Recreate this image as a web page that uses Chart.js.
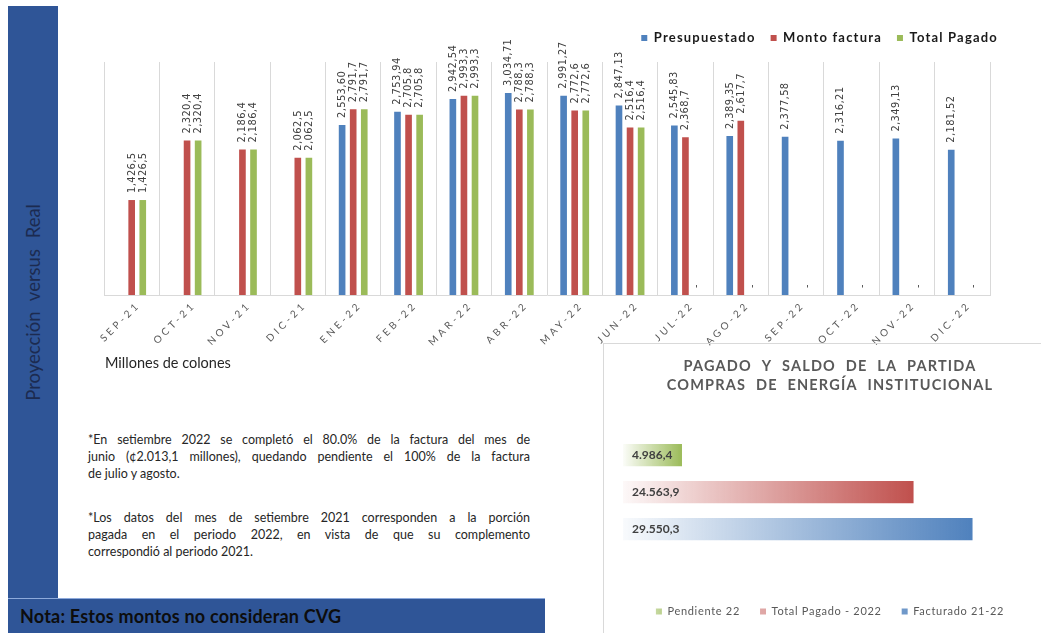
<!DOCTYPE html>
<html lang="es">
<head>
<meta charset="UTF-8">
<title>Proyección versus Real</title>
<script src="https://cdn.jsdelivr.net/npm/chart.js"></script>
<style>
    body { margin: 0; width: 1041px; height: 633px; overflow: hidden; background: #fff; position: relative; font-family: Lato, "Open Sans", sans-serif; }
    .lateral { position: absolute; left: 8px; top: 6px; width: 50px; height: 592px; background: #2f5597; display: flex; align-items: center; justify-content: center; }
    .lateral span { writing-mode: vertical-rl; transform: rotate(180deg); color: #1c2b50; font-size: 18.5px; word-spacing: 6px; }
    .nota { position: absolute; left: 8px; top: 598px; width: 537px; height: 40px; background: #2f5597; border-top: 1px solid #8eaadb; box-sizing: border-box; }
    .nota span { position: absolute; left: 12px; top: 6px; font-weight: bold; font-size: 18px; letter-spacing: 0.2px; color: #0d0d0d; }
    #cajaBarras { position: absolute; left: 60px; top: 0; }
    .unidades { position: absolute; left: 105px; top: 354px; font-size: 14.5px; color: #262626; }
    .parrafo { position: absolute; left: 88px; width: 442px; font-size: 12.5px; color: #262626; line-height: 17px; }
    .parrafo div { text-align: justify; text-align-last: justify; white-space: nowrap; }
    .parrafo div.fin { text-align-last: left; }
    .marco { position: absolute; left: 603px; top: 343px; width: 460px; height: 320px; border: 1px solid #d9d9d9; }
    #cajaSaldo { position: absolute; left: 604px; top: 344px; }
</style>
</head>
<body>
    <div class="lateral"><span>Proyección versus Real</span></div>

    <canvas id="cajaBarras" width="981" height="365"></canvas>
    <div class="unidades">Millones de colones</div>

    <div class="parrafo" style="top: 431px;">
        <div>*En setiembre 2022 se completó el 80.0% de la factura del mes de</div>
        <div>junio (¢2.013,1 millones), quedando pendiente el 100% de la factura</div>
        <div class="fin">de julio y agosto.</div>
    </div>
    <div class="parrafo" style="top: 509px;">
        <div>*Los datos del mes de setiembre 2021 corresponden a la porción</div>
        <div>pagada en el periodo 2022, en vista de que su complemento</div>
        <div class="fin">correspondió al periodo 2021.</div>
    </div>

    <div class="marco"></div>
    <canvas id="cajaSaldo" width="437" height="283"></canvas>

    <div class="nota"><span>Nota: Estos montos no consideran CVG</span></div>

<script>
    // datos del grafico mensual (millones de colones)
    const meses = ['SEP-21', 'OCT-21', 'NOV-21', 'DIC-21', 'ENE-22', 'FEB-22', 'MAR-22', 'ABR-22',
        'MAY-22', 'JUN-22', 'JUL-22', 'AGO-22', 'SEP-22', 'OCT-22', 'NOV-22', 'DIC-22'];
    const presupuestado = [null, null, null, null, 2553.60, 2753.94, 2942.54, 3034.71,
        2991.27, 2847.13, 2545.83, 2389.35, 2377.58, 2316.21, 2349.13, 2181.52];
    const montoFactura = [1426.5, 2320.4, 2186.4, 2062.5, 2791.7, 2705.8, 2993.3, 2788.3,
        2772.6, 2516.4, 2368.7, 2617.7, null, null, null, null];
    const totalPagado = [1426.5, 2320.4, 2186.4, 2062.5, 2791.7, 2705.8, 2993.3, 2788.3,
        2772.6, 2516.4, 0, 0, 0, 0, 0, 0];
    const decimales = [2, 1, 1];

    // datos del saldo de la partida
    const partida = [''];
    const pendiente22 = [4986.4];
    const pagado2022 = [24563.9];
    const facturado2122 = [29550.3];

    const azul = '#4f81bd';
    const rojo = '#c0504d';
    const verde = '#9bbb59';

    function formatoComa(v, dec) {
        const partes = v.toFixed(dec).split('.');
        return partes[0].replace(/\B(?=(\d{3})+(?!\d))/g, ',') + (partes[1] ? ',' + partes[1] : '');
    }

    function formatoPunto(v) {
        const partes = v.toFixed(1).split('.');
        return partes[0].replace(/\B(?=(\d{3})+(?!\d))/g, '.') + ',' + partes[1];
    }

    function rgba(hex, a) {
        const n = parseInt(hex.slice(1), 16);
        return `rgba(${n >> 16}, ${(n >> 8) & 255}, ${n & 255}, ${a})`;
    }

    // etiquetas verticales encima de cada barra
    const etiquetasMes = {
        id: 'etiquetasMes',
        beforeLayout(chart) { chart.ctx.letterSpacing = '1.2px'; },
        beforeDraw(chart) { chart.ctx.letterSpacing = '1.2px'; },
        afterDatasetsDraw(chart) {
            const ctx = chart.ctx;
            ctx.save();
            ctx.letterSpacing = '0.4px';
            ctx.font = '11px "DejaVu Sans Condensed", "Liberation Sans Narrow", sans-serif';
            ctx.fillStyle = '#404040';
            ctx.textAlign = 'left';
            ctx.textBaseline = 'middle';
            chart.data.datasets.forEach((ds, i) => {
                chart.getDatasetMeta(i).data.forEach((barra, j) => {
                    const v = ds.data[j];
                    if (v === null) return;
                    const txt = v === 0 ? '-' : formatoComa(v, decimales[i]);
                    ctx.save();
                    ctx.translate(barra.x, barra.y - 7);
                    ctx.rotate(-Math.PI / 2);
                    ctx.fillText(txt, 0, 0);
                    ctx.restore();
                });
            });
            ctx.restore();
            // las etiquetas del eje x se dibujan despues (ticks.z = 1)
            ctx.letterSpacing = '3.3px';
        },
        afterDraw(chart) { chart.ctx.letterSpacing = '0px'; }
    };

    new Chart(document.getElementById('cajaBarras'), {
        type: 'bar',
        data: {
            labels: meses,
            datasets: [
                { label: 'Presupuestado', data: presupuestado, backgroundColor: azul },
                { label: 'Monto factura', data: montoFactura, backgroundColor: rojo },
                { label: 'Total Pagado', data: totalPagado, backgroundColor: verde }
            ]
        },
        options: {
            responsive: false,
            animation: false,
            categoryPercentage: 0.6,
            barPercentage: 0.6,
            layout: { padding: { left: 44, right: 28, top: 16.5, bottom: 0 } },
            plugins: {
                tooltip: { enabled: false },
                legend: {
                    position: 'top',
                    align: 'end',
                    labels: {
                        boxWidth: 6,
                        boxHeight: 6,
                        padding: 15,
                        color: '#1a1a1a',
                        font: { family: 'Lato', size: 13, weight: 'bold' }
                    }
                }
            },
            scales: {
                x: {
                    grid: { color: '#d9d9d9', drawTicks: false },
                    border: { color: '#d9d9d9' },
                    ticks: {
                        z: 1,
                        minRotation: 45,
                        maxRotation: 45,
                        padding: 4,
                        labelOffset: 7,
                        color: '#595959',
                        font: { family: 'Lato', size: 10 }
                    },
                    afterFit(s) { s.height = 70; }
                },
                y: {
                    position: 'right',
                    min: 0,
                    max: 3500,
                    ticks: { display: false },
                    grid: { display: false },
                    border: { display: false },
                    afterFit(s) { s.width = 23; }
                },
                arriba: {
                    type: 'linear',
                    position: 'top',
                    ticks: { display: false },
                    grid: { display: false },
                    border: { display: false },
                    afterFit(s) { s.height = 7.5; }
                }
            }
        },
        plugins: [etiquetasMes]
    });

    // barras horizontales con degradado
    function degradado(color) {
        return (c) => {
            const area = c.chart.chartArea;
            if (!area || c.type !== 'data') return color;
            const fin = c.chart.scales.x.getPixelForValue(c.raw);
            const g = c.chart.ctx.createLinearGradient(area.left, 0, fin, 0);
            g.addColorStop(0, rgba(color, 0.04));
            g.addColorStop(1, color);
            return g;
        };
    }

    const etiquetasSaldo = {
        id: 'etiquetasSaldo',
        beforeLayout(chart) { chart.ctx.letterSpacing = '0.7px'; },
        beforeDraw(chart) { chart.ctx.letterSpacing = '0.7px'; },
        afterDatasetsDraw(chart) {
            const ctx = chart.ctx;
            ctx.save();
            ctx.letterSpacing = '0px';
            ctx.font = 'bold 12px Lato, sans-serif';
            ctx.fillStyle = '#404040';
            ctx.textAlign = 'left';
            ctx.textBaseline = 'middle';
            chart.data.datasets.forEach((ds, i) => {
                chart.getDatasetMeta(i).data.forEach((barra, j) => {
                    ctx.fillText(formatoPunto(ds.data[j]), chart.chartArea.left + 9, barra.y);
                });
            });
            ctx.restore();
        },
        afterDraw(chart) { chart.ctx.letterSpacing = '0px'; }
    };

    const graficoSaldo = new Chart(document.getElementById('cajaSaldo'), {
        type: 'bar',
        data: {
            labels: partida,
            datasets: [
                { label: 'Pendiente 22', data: pendiente22, backgroundColor: degradado(verde) },
                { label: 'Total Pagado - 2022', data: pagado2022, backgroundColor: degradado(rojo) },
                { label: 'Facturado 21-22', data: facturado2122, backgroundColor: degradado(azul) }
            ]
        },
        options: {
            indexAxis: 'y',
            responsive: false,
            animation: false,
            categoryPercentage: 0.591,
            barPercentage: 0.6,
            layout: { padding: { left: 19, right: 4, top: 0, bottom: 0 } },
            plugins: {
                tooltip: { enabled: false },
                title: {
                    display: true,
                    text: ['PAGADO Y SALDO DE LA PARTIDA', 'COMPRAS DE ENERGÍA INSTITUCIONAL'],
                    color: '#595959',
                    font: { family: 'Lato', size: 14.5, weight: 'bold', lineHeight: 1.3 },
                    padding: { top: 12.6, bottom: 4 }
                },
                legend: {
                    position: 'bottom',
                    labels: {
                        boxWidth: 6,
                        boxHeight: 6,
                        padding: 20,
                        color: '#595959',
                        font: { family: 'Lato', size: 11 }
                    }
                }
            },
            scales: {
                x: { display: false, min: 0, max: 35000 },
                y: { display: false }
            }
        },
        plugins: [etiquetasSaldo]
    });

    // el titulo lleva mas espacio entre letras y palabras que la leyenda
    const bloqueTitulo = graficoSaldo.titleBlock;
    const dibujarTitulo = bloqueTitulo.draw;
    bloqueTitulo.draw = function () {
        const ctx = this.ctx;
        ctx.save();
        ctx.letterSpacing = '1.2px';
        ctx.wordSpacing = '5px';
        dibujarTitulo.call(this);
        ctx.restore();
    };
    graficoSaldo.draw();
</script>
</body>
</html>
